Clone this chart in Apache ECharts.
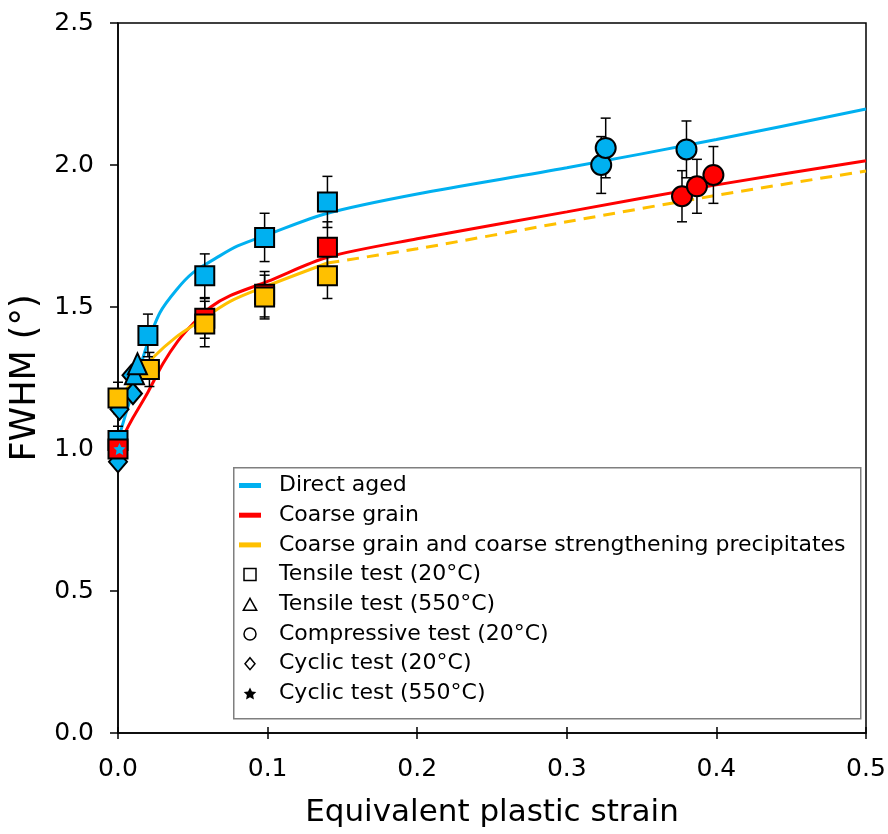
<!DOCTYPE html>
<html>
<head>
<meta charset="utf-8">
<script src="https://cdn.jsdelivr.net/npm/echarts@6/dist/echarts.min.js"></script>
<style>
  html, body { margin: 0; padding: 0; background: #fff; }
  #chart { width: 888px; height: 834px; }
</style>
</head>
<body>
<div id="chart"></div>
<script>
// fitted curves
var daCurve = [[0,1.03],[0.005,1.12],[0.011,1.22],[0.019,1.36],[0.028,1.48],[0.039,1.56],[0.05,1.62],[0.068,1.68],[0.08,1.715],[0.1,1.755],[0.14,1.83],[0.2,1.898],[0.3,1.99],[0.4,2.09],[0.5,2.197]];
var cgCurve = [[0,1.0],[0.005,1.06],[0.01,1.11],[0.02,1.2],[0.03,1.3],[0.04,1.38],[0.05,1.44],[0.062,1.5],[0.075,1.54],[0.1,1.59],[0.14,1.675],[0.2,1.74],[0.3,1.835],[0.4,1.93],[0.5,2.015]];
var ccCurve = [[0.001,1.18],[0.01,1.24],[0.024,1.325],[0.039,1.395],[0.0525,1.443],[0.075,1.52],[0.1,1.575],[0.14,1.655]];
var ccCurveDash = [[0.14,1.655],[0.2,1.705],[0.3,1.8],[0.4,1.893],[0.5,1.979]];

// measurements  [strain, FWHM]  + error
var daSquare = [[0,1.03],[0.02,1.40],[0.058,1.61],[0.098,1.745],[0.14,1.87]];
var daSquareErr = [0.05,0.075,0.077,0.085,0.09];
var cgSquare = [[0,1.0],[0.058,1.46],[0.098,1.545],[0.14,1.71]];
var cgSquareErr = [0.05,0.07,0.08,0.09];
var ccSquare = [[0,1.18],[0.021,1.28],[0.058,1.44],[0.098,1.535],[0.14,1.61]];
var ccSquareErr = [0.055,0.06,0.08,0.077,0.08];
var daTriangle = [[0.011,1.265],[0.013,1.30]];
var daCircle = [[0.323,2.0],[0.326,2.06],[0.38,2.055]];
var daCircleErr = [0.1,0.105,0.1];
var cgCircle = [[0.377,1.89],[0.387,1.925],[0.398,1.965]];
var cgCircleErr = [0.09,0.095,0.1];
var daDiamond = [[0.009,1.26],[0.01,1.195],[0.001,1.14],[0,0.955]];
var daStar = [[0.001,1.0]];

var xTicks = [0, 0.1, 0.2, 0.3, 0.4, 0.5];
var yTicks = [0, 0.5, 1.0, 1.5, 2.0, 2.5];

var BLUE = '#00b0f0', RED = '#ff0000', YELLOW = '#ffc000';
var FONT = 'DejaVu Sans';
var STAR = 'path://M0,-10L2.9,-4L9.5,-3.1L4.7,1.5L5.9,8.1L0,5L-5.9,8.1L-4.7,1.5L-9.5,-3.1L-2.9,-4Z';
var BAR = 'path://M0,0H22V5H0Z';

function colored(pts, color) {
  return pts.map(function (p) { return { value: p, itemStyle: { color: color } }; });
}
function withErr(pts, errs) {
  return pts.map(function (p, i) { return [p[0], p[1], errs[i]]; });
}
var errData = [].concat(
  withErr(daSquare, daSquareErr), withErr(cgSquare, cgSquareErr), withErr(ccSquare, ccSquareErr),
  withErr(daCircle, daCircleErr), withErr(cgCircle, cgCircleErr)
);

var markerBorder = { borderColor: '#000', borderWidth: 2, opacity: 1 };

var option = {
  animation: false,
  grid: { left: 118, right: 22, top: 23, bottom: 101, show: true, borderColor: '#000', borderWidth: 1.5, outerBoundsMode: 'none' },
  xAxis: [{
    type: 'value', min: 0, max: 0.5, interval: 0.1,
    name: 'Equivalent plastic strain', nameLocation: 'middle', nameGap: 64,
    nameTextStyle: { fontFamily: FONT, fontSize: 31, color: '#000' },
    axisLine: { lineStyle: { color: '#000', width: 1.5 } },
    axisTick: { length: 6, lineStyle: { color: '#000', width: 1.5 } },
    axisLabel: { fontFamily: FONT, fontSize: 25, color: '#000', margin: 24,
      formatter: function (v) { return v.toFixed(1); } },
    splitLine: { show: false }
  }, {
    type: 'value', min: 0, max: 0.5, interval: 0.1, position: 'bottom',
    axisLine: { show: false },
    axisTick: { inside: true, length: 6, lineStyle: { color: '#000', width: 1.5 } },
    axisLabel: { show: false }, splitLine: { show: false }
  }],
  yAxis: {
    type: 'value', min: 0, max: 2.5, interval: 0.5,
    name: 'FWHM (°)', nameLocation: 'middle', nameGap: 72,
    nameTextStyle: { fontFamily: FONT, fontSize: 35, color: '#000' },
    axisLine: { show: true, lineStyle: { color: '#000', width: 1.5 } },
    axisTick: { show: true, length: 8, lineStyle: { color: '#000', width: 1.5 } },
    axisLabel: { fontFamily: FONT, fontSize: 25, color: '#000', margin: 24,
      formatter: function (v) { return v.toFixed(1); } },
    splitLine: { show: false }
  },
  graphic: [{
    type: 'rect', z: 3, left: 233, top: 467,
    shape: { width: 627, height: 251 },
    style: { fill: '#fff', stroke: '#7f7f7f', lineWidth: 1.5 }
  }],
  legend: {
    orient: 'vertical', left: 239, top: 474, padding: 0, z: 5,
    itemWidth: 22, itemHeight: 12, itemGap: 6.7,
    textStyle: { fontFamily: FONT, fontSize: 22, color: '#000', lineHeight: 23, padding: [0, 0, 0, 13] },
    data: [
      { name: 'Direct aged', icon: BAR, itemStyle: { color: BLUE, borderWidth: 0 } },
      { name: 'Coarse grain', icon: BAR, itemStyle: { color: RED, borderWidth: 0 } },
      { name: 'Coarse grain and coarse strengthening precipitates', icon: BAR, itemStyle: { color: YELLOW, borderWidth: 0 } },
      { name: 'Tensile test (20°C)', icon: 'path://M0,0H10V10H0Z', itemStyle: { color: '#fff', borderColor: '#000', borderWidth: 1.5 } },
      { name: 'Tensile test (550°C)', icon: 'path://M5,0L10,9H0Z', itemStyle: { color: '#fff', borderColor: '#000', borderWidth: 1.5 } },
      { name: 'Compressive test (20°C)', icon: 'circle', itemStyle: { color: '#fff', borderColor: '#000', borderWidth: 1.5 } },
      { name: 'Cyclic test (20°C)', icon: 'path://M5,0L10,6L5,12L0,6Z', itemStyle: { color: '#fff', borderColor: '#000', borderWidth: 1.5 } },
      { name: 'Cyclic test (550°C)', icon: STAR, itemStyle: { color: '#000', borderWidth: 0 } }
    ]
  },
  series: [
    { name: 'Direct aged', type: 'line', data: daCurve, smooth: 0.3, showSymbol: false,
      lineStyle: { color: BLUE, width: 3 }, itemStyle: { color: BLUE }, z: 2 },
    { name: 'Coarse grain', type: 'line', data: cgCurve, smooth: 0.3, showSymbol: false,
      lineStyle: { color: RED, width: 3 }, itemStyle: { color: RED }, z: 2 },
    { name: 'Coarse grain and coarse strengthening precipitates', type: 'line', data: ccCurve, smooth: 0.3, showSymbol: false,
      lineStyle: { color: YELLOW, width: 3 }, itemStyle: { color: YELLOW }, z: 2 },
    { name: 'Coarse grain and coarse strengthening precipitates', type: 'line', data: ccCurveDash, smooth: 0.3, showSymbol: false,
      lineStyle: { color: YELLOW, width: 3, type: [12, 8] }, itemStyle: { color: YELLOW }, z: 2 },
    { type: 'custom', z: 3, data: errData,
      renderItem: function (params, api) {
        var x = api.value(0), y = api.value(1), e = api.value(2);
        var top = api.coord([x, y + e]), bot = api.coord([x, y - e]);
        var s = { stroke: '#000', lineWidth: 1.5 };
        return { type: 'group', children: [
          { type: 'line', shape: { x1: top[0], y1: top[1], x2: bot[0], y2: bot[1] }, style: s },
          { type: 'line', shape: { x1: top[0] - 5, y1: top[1], x2: top[0] + 5, y2: top[1] }, style: s },
          { type: 'line', shape: { x1: bot[0] - 5, y1: bot[1], x2: bot[0] + 5, y2: bot[1] }, style: s }
        ] };
      }
    },
    { name: 'Cyclic test (20°C)', type: 'scatter', symbol: 'diamond', symbolSize: [18, 21], z: 4,
      data: colored(daDiamond, BLUE), itemStyle: markerBorder },
    { name: 'Tensile test (20°C)', type: 'scatter', symbol: 'rect', symbolSize: 19, z: 5,
      data: colored(daSquare, BLUE).concat(colored(cgSquare, RED), colored(ccSquare, YELLOW)), itemStyle: markerBorder },
    { name: 'Tensile test (550°C)', type: 'scatter', symbol: 'triangle', symbolSize: [19, 21], z: 6,
      data: colored(daTriangle, BLUE), itemStyle: markerBorder },
    { name: 'Compressive test (20°C)', type: 'scatter', symbol: 'circle', symbolSize: 20, z: 5,
      data: colored(daCircle, BLUE).concat(colored(cgCircle, RED)), itemStyle: markerBorder },
    { name: 'Cyclic test (550°C)', type: 'scatter', symbol: STAR, symbolSize: 12, z: 7,
      data: colored(daStar, BLUE), itemStyle: { borderWidth: 0, opacity: 1 } }
  ]
};

var myChart = echarts.init(document.getElementById('chart'));
myChart.setOption(option);
</script>
</body>
</html>
